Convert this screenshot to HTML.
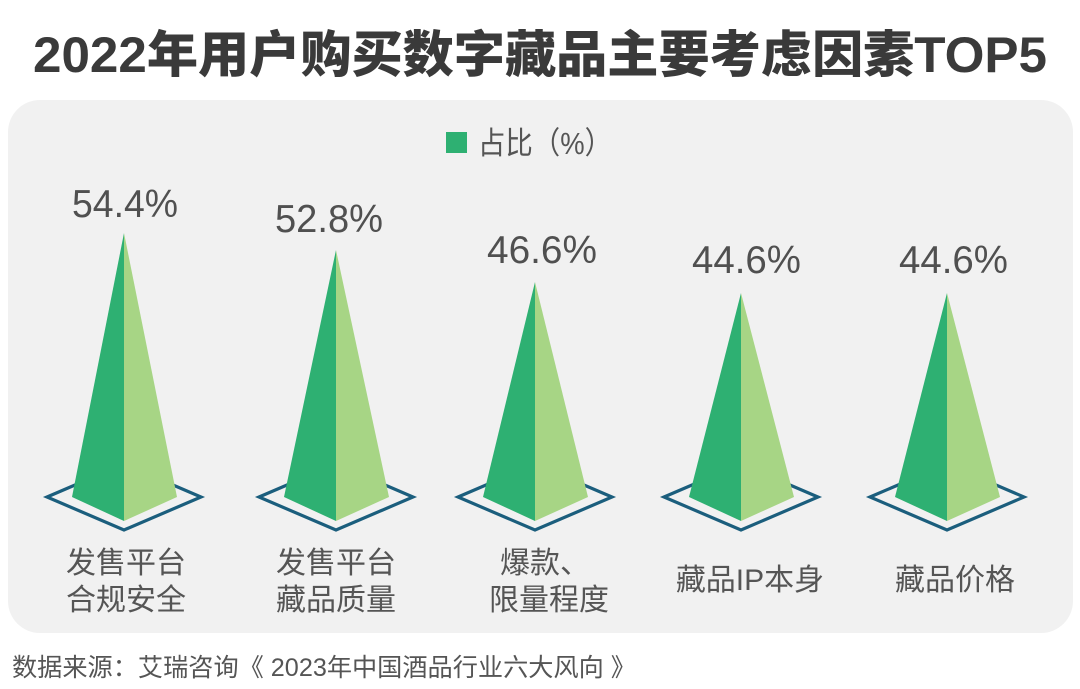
<!DOCTYPE html>
<html>
<head>
<meta charset="utf-8">
<style>
  html, body { margin: 0; padding: 0; background: #ffffff; }
  body { width: 1080px; height: 689px; overflow: hidden; }
  svg { display: block; }
  text { font-family: "Liberation Sans", "Noto Sans CJK SC", sans-serif; }
</style>
</head>
<body>
<svg width="1080" height="689" viewBox="0 0 1080 689" xmlns="http://www.w3.org/2000/svg">
  <rect x="0" y="0" width="1080" height="689" fill="#ffffff"/>
  <!-- title -->
  <text x="33" y="72" font-size="50" font-weight="900" fill="#3a3a3a" textLength="1014" lengthAdjust="spacingAndGlyphs">2022年用户购买数字藏品主要考虑因素TOP5</text>

  <!-- panel -->
  <rect x="8" y="100" width="1065" height="533" rx="32" ry="32" fill="#f1f1f1"/>

  <!-- legend -->
  <rect x="446" y="132" width="21" height="21" fill="#2eb072"/>
  <text x="478" y="154" font-size="31" fill="#555555" textLength="134" lengthAdjust="spacingAndGlyphs">占比（%）</text>

  <!-- pyramid 1 -->
  <g>
    <polygon points="47,497 124,464 201,497 124,530" fill="none" stroke="#1b5e7d" stroke-width="3.2" stroke-linejoin="miter"/>
    <polygon points="124,233 72,497 124,521" fill="#2eb072"/>
    <polygon points="124,233 177,497 124,521" fill="#a7d585"/>
  </g>
  <!-- pyramid 2 -->
  <g>
    <polygon points="259,497 336,464 413,497 336,530" fill="none" stroke="#1b5e7d" stroke-width="3.2"/>
    <polygon points="336,250 284,497 336,521" fill="#2eb072"/>
    <polygon points="336,250 389,497 336,521" fill="#a7d585"/>
  </g>
  <!-- pyramid 3 -->
  <g>
    <polygon points="458,497 535,464 612,497 535,530" fill="none" stroke="#1b5e7d" stroke-width="3.2"/>
    <polygon points="535,282 483,497 535,521" fill="#2eb072"/>
    <polygon points="535,282 588,497 535,521" fill="#a7d585"/>
  </g>
  <!-- pyramid 4 -->
  <g>
    <polygon points="664,497 741,464 818,497 741,530" fill="none" stroke="#1b5e7d" stroke-width="3.2"/>
    <polygon points="741,293 689,497 741,521" fill="#2eb072"/>
    <polygon points="741,293 794,497 741,521" fill="#a7d585"/>
  </g>
  <!-- pyramid 5 -->
  <g>
    <polygon points="870,497 947,464 1024,497 947,530" fill="none" stroke="#1b5e7d" stroke-width="3.2"/>
    <polygon points="947,293 895,497 947,521" fill="#2eb072"/>
    <polygon points="947,293 1000,497 947,521" fill="#a7d585"/>
  </g>

  <!-- value labels -->
  <g font-size="39" fill="#505050">
    <text x="72" y="217" textLength="106" lengthAdjust="spacingAndGlyphs">54.4%</text>
    <text x="275" y="232" textLength="108" lengthAdjust="spacingAndGlyphs">52.8%</text>
    <text x="487" y="263" textLength="110" lengthAdjust="spacingAndGlyphs">46.6%</text>
    <text x="692" y="273" textLength="109" lengthAdjust="spacingAndGlyphs">44.6%</text>
    <text x="899" y="273" textLength="109" lengthAdjust="spacingAndGlyphs">44.6%</text>
  </g>

  <!-- category labels -->
  <g font-size="30" fill="#555555" text-anchor="middle">
    <text x="126" y="573">发售平台</text>
    <text x="126" y="610">合规安全</text>
    <text x="336" y="573">发售平台</text>
    <text x="336" y="610">藏品质量</text>
    <text x="545" y="573">爆款、</text>
    <text x="549" y="610">限量程度</text>
    <text x="750" y="590">藏品IP本身</text>
    <text x="955" y="590">藏品价格</text>
  </g>

  <!-- footer -->
  <text x="12" y="676" font-size="25" fill="#555555" textLength="624" lengthAdjust="spacingAndGlyphs">数据来源：艾瑞咨询《 2023年中国酒品行业六大风向 》</text>
</svg>
</body>
</html>
